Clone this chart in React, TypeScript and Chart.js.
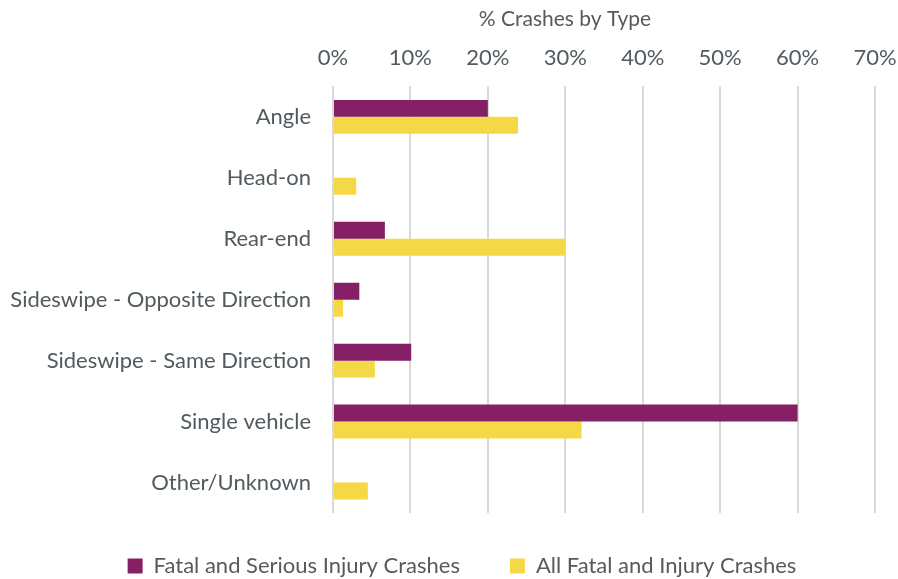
import React, { useEffect, useRef } from "react";
import { Chart, registerables } from "chart.js";

Chart.register(...registerables);

const categories = [
  "Angle",
  "Head-on",
  "Rear-end",
  "Sideswipe - Opposite Direction",
  "Sideswipe - Same Direction",
  "Single vehicle",
  "Other/Unknown",
];
const fatalSerious = [20.0, 0, 6.7, 3.4, 10.1, 60.0, 0];
const allFatalInjury = [23.9, 3.0, 30.0, 1.3, 5.4, 32.1, 4.5];
const seriesNames = ["Fatal and Serious Injury Crashes", "All Fatal and Injury Crashes"];
const chartTitle = "% Crashes by Type";

const FONT = "Lato, 'Noto Sans', sans-serif";
const TEXT = "#595959";
const LABEL = "#515b5f";

const titlePlugin = {
  id: "customTitle",
  afterLayout(chart: any) {
    const lg = chart.legend;
    if (lg) {
      lg.top = chart.chartArea.bottom - 8;
      lg.bottom = chart.height;
      lg.left += 13;
      lg.right += 13;
    }
  },
  afterDraw(chart: any) {
    const ctx = chart.ctx;
    const ca = chart.chartArea;
    ctx.save();
    ctx.font = `21px ${FONT}`;
    ctx.fillStyle = TEXT;
    ctx.textAlign = "center";
    ctx.textBaseline = "middle";
    ctx.fillText(chartTitle, (ca.left + ca.right) / 2 - 39, 19);
    ctx.restore();
  },
};

export default function App() {
  const ref = useRef<HTMLCanvasElement>(null);
  useEffect(() => {
    document.body.style.margin = "0";
    const chart = new Chart(ref.current!, {
      type: "bar",
      data: {
        labels: categories,
        datasets: [
          {
            label: seriesNames[0],
            data: fatalSerious,
            backgroundColor: "#851F66",
            categoryPercentage: 0.557,
            barPercentage: 1.0,
          },
          {
            label: seriesNames[1],
            data: allFatalInjury,
            backgroundColor: "#F5D845",
            categoryPercentage: 0.557,
            barPercentage: 1.0,
          },
        ],
      },
      options: {
        indexAxis: "y",
        animation: false,
        responsive: false,
        devicePixelRatio: 1,
        layout: { padding: { top: 30, right: 0, left: 0, bottom: 0 } },
        scales: {
          x: {
            position: "top",
            min: 0,
            max: 70,
            ticks: {
              stepSize: 10,
              callback: (v: any) => v + "%",
              font: { family: FONT, size: 22 },
              color: LABEL,
              padding: 15,
            },
            grid: { color: "#d9d9d9", lineWidth: 2, drawTicks: false },
            border: { display: false },
            afterFit: (s: any) => {
              s.paddingRight = 23;
            },
          },
          y: {
            ticks: {
              font: { family: FONT, size: 22 },
              color: LABEL,
              padding: 22,
            },
            grid: { display: false, drawTicks: false },
            border: { display: false },
            afterFit: (s: any) => {
              s.width = 333;
            },
          },
        },
        plugins: {
          legend: {
            position: "bottom",
            maxHeight: 66,
            labels: {
              font: { family: FONT, size: 22 },
              color: TEXT,
              boxWidth: 15,
              boxHeight: 15,
              padding: 50,
            },
          },
          tooltip: { enabled: false },
        },
      },
      plugins: [titlePlugin],
    });
    return () => chart.destroy();
  }, []);
  return (
    <div style={{ position: "fixed", left: 0, top: 0, width: 898, height: 579, background: "#fff" }}>
      <canvas ref={ref} width={898} height={579} />
    </div>
  );
}
